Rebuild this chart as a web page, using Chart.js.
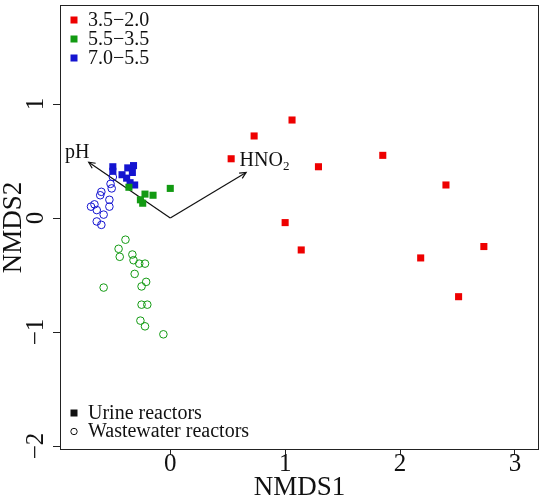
<!DOCTYPE html>
<html>
<head>
<meta charset="utf-8">
<script src="https://cdn.jsdelivr.net/npm/chart.js@4.4.0/dist/chart.umd.min.js"></script>
<style>
  html, body { margin: 0; padding: 0; background: #fff; }
  #wrap { width: 544px; height: 499px; }
</style>
</head>
<body>
<div id="wrap"><canvas id="nmds" width="544" height="499"></canvas></div>
<script>
// axis ticks
const xTicks = [0, 1, 2, 3]
const yTicks = [-2, -1, 0, 1]
const yTickLabels = ["\u22122", "\u22121", "0", "1"]

// urine reactors (filled squares), pH 3.5-2.0
const urineLowX = [1.06, 1.29, 1.85, 2.40, 1.00, 1.14, 2.18, 2.73, 2.51, 0.73, 0.53]
const urineLowY = [0.86, 0.45, 0.55, 0.29, -0.04, -0.28, -0.35, -0.25, -0.69, 0.72, 0.52]
// pH 5.5-3.5
const urineMidX = [0.00, -0.36, -0.22, -0.15, -0.26, -0.24]
const urineMidY = [0.26, 0.27, 0.21, 0.20, 0.16, 0.13]
// pH 7.0-5.5
const urineHighX = [-0.50, -0.50, -0.37, -0.32, -0.33, -0.42, -0.38, -0.35, -0.31]
const urineHighY = [0.45, 0.41, 0.44, 0.46, 0.40, 0.38, 0.35, 0.31, 0.29]

// wastewater reactors (open circles)
const wasteHighX = [-0.50, -0.52, -0.51, -0.60, -0.61, -0.53, -0.53, -0.69, -0.66, -0.64, -0.58, -0.64, -0.60]
const wasteHighY = [0.36, 0.30, 0.26, 0.23, 0.20, 0.16, 0.10, 0.10, 0.12, 0.07, 0.03, -0.03, -0.06]
const wasteMidX = [-0.39, -0.45, -0.44, -0.33, -0.32, -0.27, -0.22, -0.31, -0.21, -0.25, -0.58, -0.25, -0.20, -0.26, -0.22, -0.06]
const wasteMidY = [-0.19, -0.27, -0.34, -0.32, -0.37, -0.40, -0.40, -0.49, -0.56, -0.60, -0.61, -0.76, -0.76, -0.90, -0.95, -1.02]

// environmental fit arrows
const envNames = ["pH", "HNO2"]
const envX = [-0.71, 0.66]
const envY = [0.49, 0.40]
const envLabelX = [-0.81, 0.82]
const envLabelY = [0.57, 0.50]

const groupLabels = ["3.5\u22122.0", "5.5\u22123.5", "7.0\u22125.5"]
const RED = "#ee0000", GREEN = "#129a12", BLUE = "#1414d0"
const groupColors = [RED, GREEN, BLUE]
const FONT = "'Liberation Serif', 'Times New Roman', serif"

const pts = (xs, ys) => xs.map((x, i) => ({ x: x, y: ys[i] }))

const squareSet = (label, xs, ys, color) => ({
  label: label, data: pts(xs, ys), pointStyle: "rect", pointRadius: 5,
  backgroundColor: color, borderColor: color, borderWidth: 0, showLine: false,
})
const circleSet = (label, xs, ys, color) => ({
  label: label, data: pts(xs, ys), pointStyle: "circle", pointRadius: 3.8,
  backgroundColor: "rgba(0,0,0,0)", borderColor: color, borderWidth: 1, showLine: false,
})

const datasets = [
  circleSet("waste 5.5-3.5", wasteMidX, wasteMidY, GREEN),
  circleSet("waste 7.0-5.5", wasteHighX, wasteHighY, BLUE),
  squareSet(groupLabels[0], urineLowX, urineLowY, RED),
  squareSet(groupLabels[1], urineMidX, urineMidY, GREEN),
  squareSet(groupLabels[2], urineHighX, urineHighY, BLUE),
]
envNames.forEach((n, i) => {
  datasets.push({
    type: "line", label: n, data: [{ x: 0, y: 0 }, { x: envX[i], y: envY[i] }],
    borderColor: "#111", borderWidth: 1.2, pointRadius: 0, fill: false,
  })
})

const extras = {
  id: "extras",
  afterDraw(chart) {
    const c = chart.ctx, a = chart.chartArea
    const xs = chart.scales.x, ys = chart.scales.y
    c.save()
    // box
    c.strokeStyle = "#222"
    c.lineWidth = 1
    c.strokeRect(a.left + 0.5, a.top + 0.5, a.right - a.left - 1, a.bottom - a.top - 1)

    // y tick labels, rotated like R
    c.fillStyle = "#111"
    c.font = "25px " + FONT
    c.textAlign = "center"
    c.textBaseline = "alphabetic"
    yTicks.forEach((v, i) => {
      c.save()
      c.translate(43, ys.getPixelForValue(v))
      c.rotate(-Math.PI / 2)
      c.fillText(yTickLabels[i], 0, 0)
      c.restore()
    })

    // arrow heads + labels
    const ox = xs.getPixelForValue(0), oy = ys.getPixelForValue(0)
    envNames.forEach((n, i) => {
      const tx = xs.getPixelForValue(envX[i]), ty = ys.getPixelForValue(envY[i])
      const ang = Math.atan2(ty - oy, tx - ox)
      c.strokeStyle = "#111"
      c.lineWidth = 1.2
      c.beginPath()
      c.moveTo(tx - 7 * Math.cos(ang - 0.45), ty - 7 * Math.sin(ang - 0.45))
      c.lineTo(tx, ty)
      c.lineTo(tx - 7 * Math.cos(ang + 0.45), ty - 7 * Math.sin(ang + 0.45))
      c.stroke()
      const lx = xs.getPixelForValue(envLabelX[i]), ly = ys.getPixelForValue(envLabelY[i])
      c.fillStyle = "#111"
      c.textBaseline = "middle"
      if (n === "HNO2") {
        c.font = "20px " + FONT
        const w1 = c.measureText("HNO").width
        c.font = "13px " + FONT
        const w2 = c.measureText("2").width
        const left = lx - (w1 + w2) / 2
        c.textAlign = "left"
        c.font = "20px " + FONT
        c.fillText("HNO", left, ly)
        c.font = "13px " + FONT
        c.fillText("2", left + w1, ly + 6)
      } else {
        c.textAlign = "center"
        c.font = "20px " + FONT
        c.fillText(n, lx, ly)
      }
    })

    // legend: pH groups
    c.textAlign = "left"
    c.textBaseline = "middle"
    c.font = "20px " + FONT
    groupLabels.forEach((g, i) => {
      const cy = 20 + i * 19
      c.fillStyle = groupColors[i]
      c.fillRect(70.5, cy - 3.5, 7, 7)
      c.fillStyle = "#111"
      c.fillText(g, 88, cy + 1)
    })

    // legend: reactor type
    c.fillStyle = "#111"
    c.fillRect(70.5, 409.5, 7, 7)
    c.fillText("Urine reactors", 88, 414)
    c.strokeStyle = "#111"
    c.lineWidth = 1
    c.beginPath()
    c.arc(74, 431.5, 3.2, 0, Math.PI * 2)
    c.stroke()
    c.fillText("Wastewater reactors", 88, 432)
    c.restore()
  },
}

new Chart(document.getElementById("nmds"), {
  type: "scatter",
  data: { datasets: datasets },
  options: {
    responsive: false,
    animation: false,
    layout: { padding: { top: 3, right: 4, left: 0, bottom: 0 } },
    plugins: { legend: { display: false }, tooltip: { enabled: false } },
    scales: {
      x: {
        type: "linear", min: -0.96, max: 3.21,
        afterBuildTicks: (s) => { s.ticks = xTicks.map((v) => ({ value: v })) },
        afterFit: (s) => { s.height = 49 },
        border: { display: false },
        grid: { display: true, drawOnChartArea: false, drawTicks: true, tickLength: 5, color: "#222" },
        ticks: { autoSkip: false, maxRotation: 0, padding: -3, color: "#111",
          font: { family: FONT, size: 25, lineHeight: 1 } },
        title: { display: true, text: "NMDS1", color: "#111", padding: { top: 0, bottom: -2 },
          font: { family: FONT, size: 27, lineHeight: 1 } },
      },
      y: {
        type: "linear", min: -2.035, max: 1.869,
        afterBuildTicks: (s) => { s.ticks = yTicks.map((v) => ({ value: v })) },
        afterFit: (s) => { s.width = 60 },
        border: { display: false },
        grid: { display: true, drawOnChartArea: false, drawTicks: true, tickLength: 7, color: "#222" },
        ticks: { display: false },
        title: { display: true, text: "NMDS2", color: "#111", padding: { top: 0, bottom: 0 },
          font: { family: FONT, size: 27, lineHeight: 1 } },
      },
    },
  },
  plugins: [extras],
})
</script>
</body>
</html>
